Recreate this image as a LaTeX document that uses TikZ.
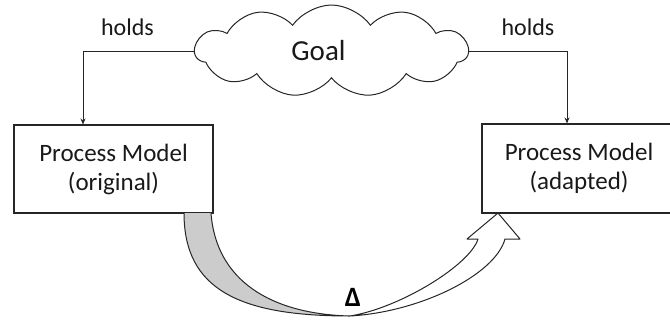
\documentclass[tikz,border=0pt]{standalone}
\usepackage{fontspec}
\setmainfont{Carlito}
\usetikzlibrary{shapes.symbols,arrows.meta}
\begin{document}
\begin{tikzpicture}[x=1pt,y=-1pt,
  box/.style={draw=black!85,line width=1.1pt,inner sep=0pt,font=\fontsize{25}{29}\selectfont,align=center,text=black!90},
  conn/.style={draw=black!85,line width=0.9pt,-{Stealth[length=6pt,width=5pt]}},
  lbl/.style={font=\fontsize{24}{28}\selectfont,anchor=base,text=black!90},
  outline/.style={draw=black!85,line width=1pt,line join=round}]
\useasboundingbox (0,0) rectangle (670,322);
\clip (0,0) rectangle (670,322);
\node[box,minimum width=199pt,minimum height=88pt] (lb) at (113.5,169) {Process Model\\(original)};
\node[box,minimum width=194pt,minimum height=89pt] (rb) at (579,168.5) {Process Model\\(adapted)};
\node[cloud,draw=black!85,line width=1pt,fill=white,cloud puffs=11,cloud puff arc=110,cloud ignores aspect,minimum width=273pt,minimum height=92pt,font=\fontsize{29}{34}\selectfont,text=black!90] (goal) at (331.5,51) {Goal\hspace*{26pt}};
\draw[conn] (goal.west) -| ([xshift=-30.5pt]lb.north);
\draw[conn] (goal.east) -| ([xshift=-12pt]rb.north);
\node[lbl] (h1) at (127.5,35) {holds};
\node[lbl] (h2) at (528,35) {holds};
% curved block arrow
\coordinate (P) at (350,316);
\fill[black!20] (184,213) .. controls (184,290) and (240,316) .. (P) .. controls (270,314) and (216,280) .. (211,213) -- cycle;
\fill[white] (P) .. controls (420,312) and (495,275) .. (505,239) -- (520,239) -- (498,213) -- (467,239) -- (478,239) .. controls (470,265) and (400,308) .. (P);
\draw[outline] (184,213) .. controls (184,290) and (240,316) .. (P)
  .. controls (420,312) and (495,275) .. (505,239) -- (520,239) -- (498,213) -- (467,239) -- (478,239)
  .. controls (470,265) and (400,308) .. (P)
  .. controls (270,314) and (216,280) .. (211,213);
\node[font=\fontsize{28}{32}\selectfont\bfseries,anchor=base,inner sep=0pt] (delta) at (353,306) {Δ};
\end{tikzpicture}
\end{document}
